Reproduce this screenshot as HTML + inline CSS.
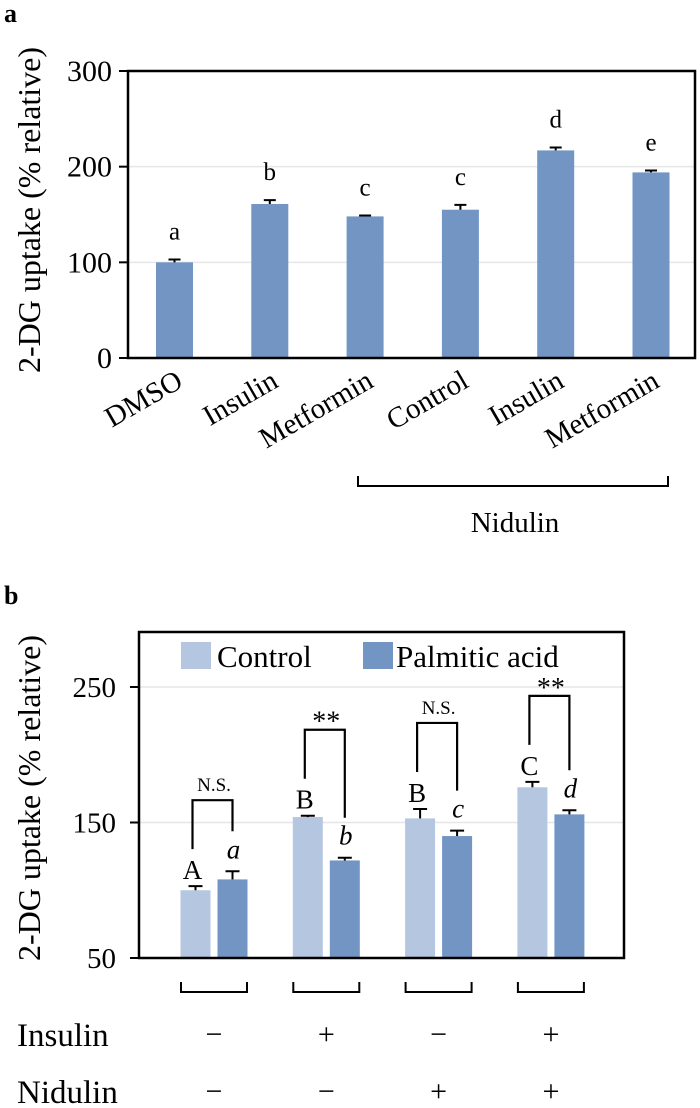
<!DOCTYPE html>
<html><head><meta charset="utf-8"><style>
html,body{margin:0;padding:0;background:#fff}
svg{display:block;font-family:"Liberation Serif",serif}
</style></head><body>
<svg id="fig" width="700" height="1108" viewBox="0 0 700 1108" xmlns="http://www.w3.org/2000/svg">
<text x="4" y="22" font-size="26" font-weight="bold">a</text>
<text x="4" y="604" font-size="26" font-weight="bold">b</text>
<g id="ga"></g>
<g id="gb"></g>
</svg>
<script>
// Chart A data
const catsA = ["DMSO","Insulin","Metformin","Control","Insulin","Metformin"];
const valsA = [100,161,148,155,217,194];
const errsA = [3,4,1,5,3,2];
const letA = ["a","b","c","c","d","e"];
const ticksA = [0,100,200,300];
// Chart B data
const groupsB = ["g1","g2","g3","g4"];
const ctrlB = [100,154,153,176];
const paB = [108,122,140,156];
const ctrlErrB = [3,1,7,4];
const paErrB = [6,2,4,3];
const ctrlLetB = ["A","B","B","C"];
const paLetB = ["a","b","c","d"];
const sigB = ["N.S.","**","N.S.","**"];
const insulinB = ["−","+","−","+"];
const nidulinB = ["−","−","+","+"];
const ticksB = [50,150,250];

const NS="http://www.w3.org/2000/svg";
function mk(parent,tag,attrs,txt){const e=document.createElementNS(NS,tag);for(const k in attrs)e.setAttribute(k,attrs[k]);if(txt!==undefined)e.textContent=txt;parent.appendChild(e);return e;}

// ---- Chart A
const ga=document.getElementById('ga');
const yA=v=>358-(v/300)*287;
const xA=i=>174.5+i*95.3;
ticksA.forEach(t=>{
  if(t>0&&t<300){const g=mk(ga,'line',{x1:128,x2:695,y1:yA(t),y2:yA(t),stroke:'#e6e6e6','stroke-width':1.5});}
  const l=mk(ga,'line',{x1:119,x2:128,y1:yA(t),y2:yA(t),stroke:'#000','stroke-width':2});
  
  const tx=mk(ga,'text',{x:112,y:yA(t)+10,'font-size':30,'text-anchor':'end'},String(t));
  
});
catsA.forEach((c,i)=>{
  const x=xA(i),v=valsA[i];
  const r=mk(ga,'rect',{x:x-18.5,y:yA(v),width:37,height:358-yA(v),fill:'#7295c4'});
  
  const e=mk(ga,'path',{d:`M${x},${yA(v)} V${yA(v+errsA[i])} M${x-6},${yA(v+errsA[i])} H${x+6}`,stroke:'#000','stroke-width':2,fill:'none'});
  
  const lt=mk(ga,'text',{x:x,y:yA(v+errsA[i])-20,'font-size':25,'text-anchor':'middle'},letA[i]);
  
  const xl=mk(ga,'text',{x:0,y:0,'font-size':29,'text-anchor':'end',transform:`translate(${x+10},${386}) rotate(-30)`},c);
  
});
{const b=mk(ga,'rect',{x:128,y:71,width:567,height:287,fill:'none',stroke:'#000','stroke-width':2.5});}
{const b=mk(ga,'path',{d:'M358,476 V486 H668 V476',fill:'none',stroke:'#000','stroke-width':2});}
{const t=mk(ga,'text',{x:515,y:532,'font-size':29,'text-anchor':'middle'},'Nidulin');}
{const t=mk(ga,'text',{x:0,y:0,'font-size':32,'text-anchor':'middle',transform:'translate(40,210) rotate(-90)'},'2-DG uptake (% relative)');}

// ---- Chart B
const gb=document.getElementById('gb');
const yB=v=>958-((v-50)/100)*135.5;
const gx=i=>214+i*112.3;
ticksB.forEach(t=>{
  if(t>50){const g=mk(gb,'line',{x1:139,x2:624,y1:yB(t),y2:yB(t),stroke:'#e6e6e6','stroke-width':1.5});}
  const l=mk(gb,'line',{x1:130,x2:139,y1:yB(t),y2:yB(t),stroke:'#000','stroke-width':2});
  
  const tx=mk(gb,'text',{x:116,y:yB(t)+10,'font-size':29,'text-anchor':'end'},String(t));
  
});
groupsB.forEach((g,i)=>{
  const c=gx(i), xc=c-18.5, xp=c+18.5;
  const bars=[[xc,ctrlB[i],ctrlErrB[i],'#b4c6e0','bar-control-'+i],[xp,paB[i],paErrB[i],'#7295c4','bar-palmitic-'+i]];
  bars.forEach(([x,v,er,col,nm])=>{
    const r=mk(gb,'rect',{x:x-15,y:yB(v),width:30,height:958-yB(v),fill:col});
    
    const e=mk(gb,'path',{d:`M${x},${yB(v)} V${yB(v+er)} M${x-7},${yB(v+er)} H${x+7}`,stroke:'#000','stroke-width':2,fill:'none'});
    
  });
  const ctop=yB(ctrlB[i]+ctrlErrB[i]), ptop=yB(paB[i]+paErrB[i]);
  const lc=mk(gb,'text',{x:xc-3,y:ctop-7,'font-size':27,'text-anchor':'middle'},ctrlLetB[i]);
  
  const lp=mk(gb,'text',{x:xp+1,y:ptop-13,'font-size':27,'text-anchor':'middle','font-style':'italic'},paLetB[i]);
  
  const lTop=ctop-37, rBot=ptop-40;
  const top=lTop-49;
  const br=mk(gb,'path',{d:`M${xc-3},${lTop} V${top} H${xp} V${rBot}`,fill:'none',stroke:'#000','stroke-width':2.2});
  
  const st=sigB[i]==='**';
  const s=mk(gb,'text',{x:c,y:top-(st?-1:9),'font-size':st?28:19,'text-anchor':'middle'},sigB[i]);
  
  const gbk=mk(gb,'path',{d:`M${c-33},982 V992 H${c+33} V982`,fill:'none',stroke:'#000','stroke-width':2});
  
  const ins=mk(gb,'text',{x:c,y:1044,'font-size':30,'text-anchor':'middle'},insulinB[i]);
  
  const nid=mk(gb,'text',{x:c,y:1101,'font-size':30,'text-anchor':'middle'},nidulinB[i]);
  
});
{const b=mk(gb,'rect',{x:139,y:632,width:485,height:326,fill:'none',stroke:'#000','stroke-width':2.5});}
{const r=mk(gb,'rect',{x:181,y:642,width:30,height:27,fill:'#b4c6e0'});}
{const t=mk(gb,'text',{x:217,y:667,'font-size':31},'Control');}
{const r=mk(gb,'rect',{x:363,y:642,width:30,height:27,fill:'#7295c4'});}
{const t=mk(gb,'text',{x:396,y:667,'font-size':31},'Palmitic acid');}
{const t=mk(gb,'text',{x:0,y:0,'font-size':32,'text-anchor':'middle',transform:'translate(40,798) rotate(-90)'},'2-DG uptake (% relative)');}
{const t=mk(gb,'text',{x:17,y:1046,'font-size':33},'Insulin');}
{const t=mk(gb,'text',{x:17,y:1103,'font-size':33},'Nidulin');}
</script>
</body></html>
